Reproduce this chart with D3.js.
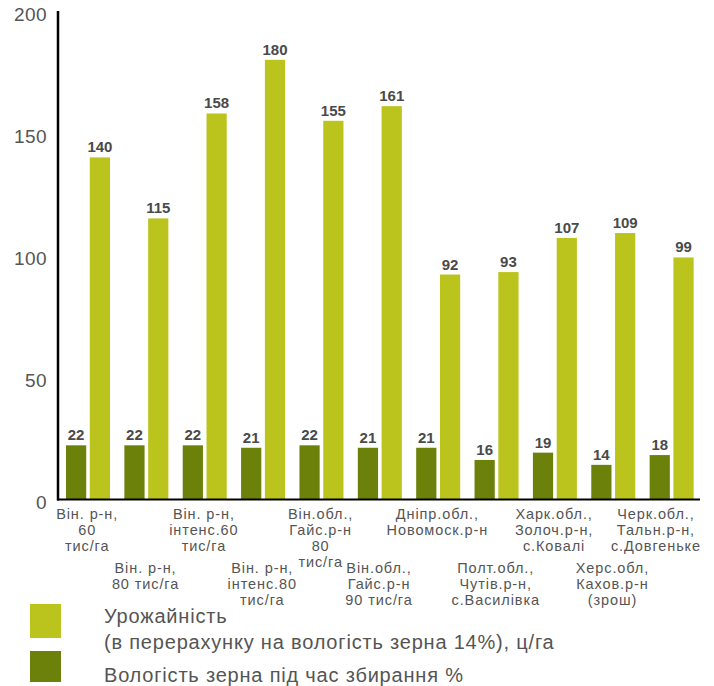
<!DOCTYPE html>
<html>
<head>
<meta charset="utf-8">
<script src="https://cdn.jsdelivr.net/npm/d3@7/dist/d3.min.js"></script>
<style>
  html, body { margin: 0; padding: 0; background: #fff; }
  svg { display: block; font-family: "Liberation Sans", Arial, Helvetica, sans-serif; }
</style>
</head>
<body>
<svg id="chart" width="714" height="686"></svg>
<script>
// Field locations (each entry is a multi-line label)
const categories = [
  ["Він. р-н,", "60", "тис/га"],
  ["Він. р-н,", "80 тис/га"],
  ["Він. р-н,", "інтенс.60", "тис/га"],
  ["Він. р-н,", "інтенс.80", "тис/га"],
  ["Він.обл.,", "Гайс.р-н", "80", "тис/га"],
  ["Він.обл.,", "Гайс.р-н", "90 тис/га"],
  ["Дніпр.обл.,", "Новомоск.р-н"],
  ["Полт.обл.,", "Чутів.р-н,", "с.Василівка"],
  ["Харк.обл.,", "Золоч.р-н,", "с.Ковалі"],
  ["Херс.обл,", "Кахов.р-н", "(зрош)"],
  ["Черк.обл.,", "Тальн.р-н,", "с.Довгеньке"]
];
// Grain moisture at harvest, %
const moisture = [22, 22, 22, 21, 22, 21, 21, 16, 19, 14, 18];
// Yield recalculated to 14% moisture, c/ha
const yieldValues = [140, 115, 158, 180, 155, 161, 92, 93, 107, 109, 99];
const yTicks = [0, 50, 100, 150, 200];
const legendLines = [
  ["Урожайність", "(в перерахунку на вологість зерна 14%), ц/га"],
  ["Вологість зерна під час збирання %"]
];

const colYield = "#bac41d";
const colMoist = "#6c8109";
const textCol = "#555555";

const svg = d3.select("#chart");

const plotLeft = 58, plotRight = 700, plotTop = 11, plotBottom = 499;

const x0 = d3.scaleBand()
  .domain(d3.range(categories.length))
  .range([plotLeft, plotRight])
  .padding(0);

const x1 = d3.scaleBand()
  .domain(["moist", "yield"])
  .range([8, 52])
  .paddingInner(0.15);

const y = d3.scaleLinear().domain([0, 200]).range([plotBottom, plotTop]);

// Bars
const groups = svg.append("g").selectAll("g")
  .data(categories.map((c, i) => ({ i, moist: moisture[i], yld: yieldValues[i] })))
  .join("g")
  .attr("transform", d => `translate(${x0(d.i)},0)`);

groups.append("rect")
  .attr("x", x1("moist"))
  .attr("width", x1.bandwidth())
  .attr("y", d => y(d.moist))
  .attr("height", d => y(0) - y(d.moist))
  .attr("fill", colMoist);

groups.append("rect")
  .attr("x", x1("yield"))
  .attr("width", x1.bandwidth())
  .attr("y", d => y(d.yld))
  .attr("height", d => y(0) - y(d.yld))
  .attr("fill", colYield);

// Value labels
groups.append("text")
  .attr("x", x1("moist") + x1.bandwidth() / 2)
  .attr("y", d => y(d.moist) - 5)
  .attr("text-anchor", "middle")
  .attr("font-size", 15).attr("font-weight", "bold").attr("fill", "#4a4a4a")
  .text(d => d.moist);

groups.append("text")
  .attr("x", x1("yield") + x1.bandwidth() / 2)
  .attr("y", d => y(d.yld) - 5)
  .attr("text-anchor", "middle")
  .attr("font-size", 15).attr("font-weight", "bold").attr("fill", "#4a4a4a")
  .text(d => d.yld);

// Y axis: line plus tick labels, no tick marks
const yAxis = d3.axisLeft(y).tickValues(yTicks).tickSize(0).tickPadding(11);
const yg = svg.append("g").attr("transform", `translate(${plotLeft},0)`).call(yAxis);
yg.select(".domain").remove();
yg.selectAll("text")
  .attr("font-size", 19).attr("fill", textCol)
  .attr("font-family", "Liberation Sans, Arial, sans-serif")
  .attr("letter-spacing", 0.4)
  .attr("dy", "0.62em")
  .attr("transform", "translate(0,-2)");

svg.append("line")
  .attr("x1", plotLeft).attr("x2", plotLeft)
  .attr("y1", y(200)).attr("y2", y(0) + 1.5)
  .attr("stroke", "#000").attr("stroke-width", 2.5);

svg.append("line")
  .attr("x1", plotLeft - 1).attr("x2", plotRight)
  .attr("y1", y(0) + 0.5).attr("y2", y(0) + 0.5)
  .attr("stroke", "#000").attr("stroke-width", 2);

// Category labels, staggered on two rows
const labelG = svg.append("g");
categories.forEach((lines, i) => {
  const cx = x0(i) + x0.bandwidth() / 2;
  const top = i % 2 === 0 ? 514 : 568;
  const t = labelG.append("text")
    .attr("text-anchor", "middle")
    .attr("font-size", 14.5).attr("letter-spacing", 0.9).attr("fill", textCol);
  lines.forEach((ln, k) => {
    t.append("tspan").attr("x", cx).attr("y", top + k * 16 + 5).text(ln);
  });
  // keep the label inside the plot on the right
  const bb = t.node().getBBox();
  const over = bb.x + bb.width - 1 - plotRight;
  if (over > 0) t.attr("transform", `translate(${-over},0)`);
});

// Legend
const legend = [
  { color: colYield, y: 604, h: 34, lines: legendLines[0], base: 623, step: 26 },
  { color: colMoist, y: 651, h: 31, lines: legendLines[1], base: 682, step: 0 }
];
legend.forEach(l => {
  svg.append("rect").attr("x", 30).attr("y", l.y).attr("width", 31).attr("height", l.h).attr("fill", l.color);
  const t = svg.append("text").attr("font-size", 20).attr("letter-spacing", 0.8).attr("fill", textCol);
  l.lines.forEach((ln, k) => {
    t.append("tspan").attr("x", 104).attr("y", l.base + k * l.step).text(ln);
  });
});
</script>
</body>
</html>
